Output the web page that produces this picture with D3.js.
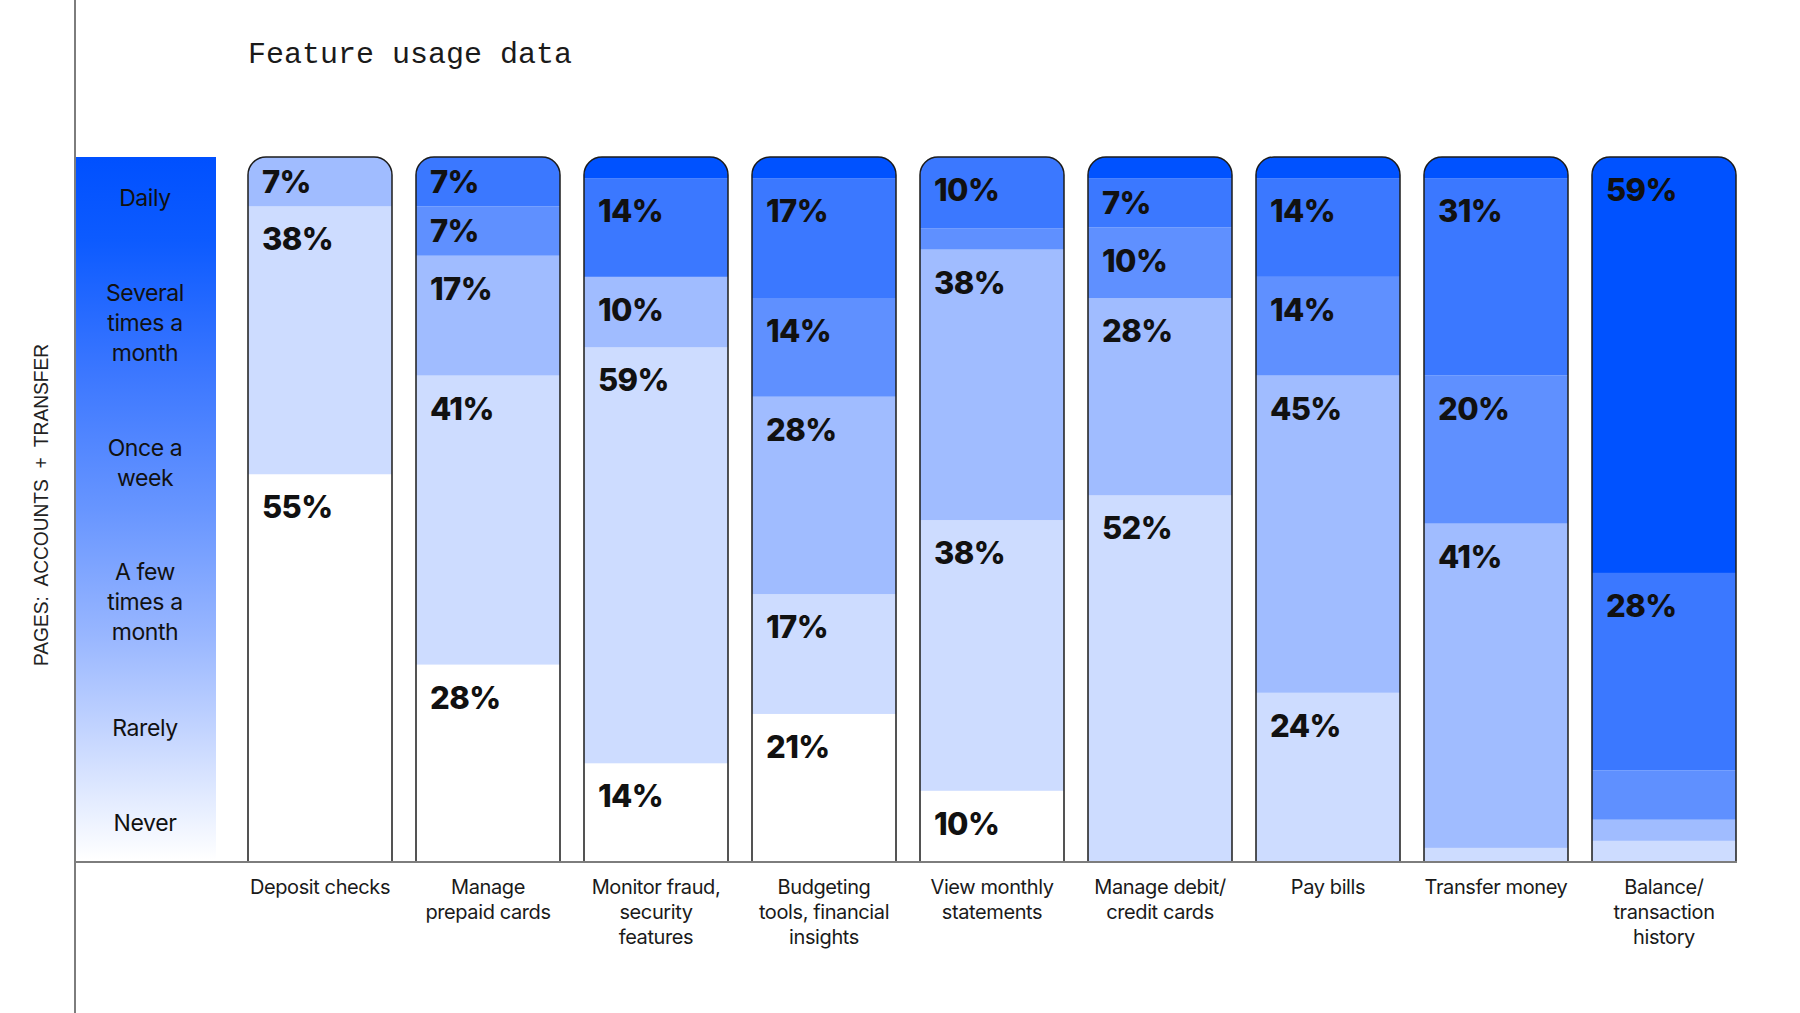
<!DOCTYPE html>
<html>
<head>
<meta charset="utf-8">
<script src="https://cdn.jsdelivr.net/npm/d3@7"></script>
<style>
  body { margin: 0; background: #fff; }
  svg { display: block; }
</style>
</head>
<body>
<div class="canvas"></div>
<script>
// categories (x) and their wrapped tick labels
const features = ['Deposit checks', 'Manage prepaid cards', 'Monitor fraud, security features',
    'Budgeting tools, financial insights', 'View monthly statements', 'Manage debit/ credit cards',
    'Pay bills', 'Transfer money', 'Balance/ transaction history']
const featureLines = [['Deposit checks'], ['Manage', 'prepaid cards'], ['Monitor fraud,', 'security', 'features'],
    ['Budgeting', 'tools, financial', 'insights'], ['View monthly', 'statements'], ['Manage debit/', 'credit cards'],
    ['Pay bills'], ['Transfer money'], ['Balance/', 'transaction', 'history']]

// frequency levels, top of the stack first
const levels = ['Daily', 'Several times a month', 'Once a week', 'A few times a month', 'Rarely', 'Never']
const levelLines = [['Daily'], ['Several', 'times a', 'month'], ['Once a', 'week'], ['A few', 'times a', 'month'], ['Rarely'], ['Never']]

// share of users per level (segment sizes as drawn, %)
const daily    = [0, 0, 3, 3, 0, 3, 3, 3, 59]
const several  = [0, 7, 14, 17, 10, 7, 14, 28, 28]
const onceWeek = [0, 7, 0, 14, 3, 10, 14, 21, 7]
const fewMonth = [7, 17, 10, 28, 38, 28, 45, 46, 3]
const rarely   = [38, 41, 59, 17, 38, 52, 24, 2, 3]
const never    = [55, 28, 14, 21, 10, 0, 0, 0, 0]

// percentages printed on the segments (null = no label)
const dailyPrinted    = [null, null, null, null, null, null, null, null, 59]
const severalPrinted  = [null, 7, 14, 17, 10, 7, 14, 31, 28]
const oncePrinted     = [null, 7, null, 14, null, 10, 14, 20, null]
const fewPrinted      = [7, 17, 10, 28, 38, 28, 45, 41, null]
const rarelyPrinted   = [38, 41, 59, 17, 38, 52, 24, null, null]
const neverPrinted    = [55, 28, 14, 21, 10, null, null, null, null]

const seriesValues = [daily, several, onceWeek, fewMonth, rarely, never]
const seriesPrinted = [dailyPrinted, severalPrinted, oncePrinted, fewPrinted, rarelyPrinted, neverPrinted]
const levelColors = ['#0052ff', '#3b78ff', '#5f90ff', '#a0bcff', '#cddcff', '#ffffff']

const width = 1800
const height = 1013
const font = 'Inter, "Noto Sans", sans-serif'

const svg = d3.select('.canvas').append('svg').attr('width', width).attr('height', height)

const plot = { left: 248, right: 1736, top: 157, bottom: 862 }

// scales
const x = d3.scaleBand()
    .domain(features)
    .range([plot.left, plot.right])
    .paddingInner(24 / 168)
    .paddingOuter(0)

const y = d3.scaleLinear()
    .domain([0, 1])
    .range([plot.bottom, plot.top])

const color = d3.scaleOrdinal().domain(levels).range(levelColors)

// table for the stack
const rows = features.map((f, i) => {
    const row = { feature: f, index: i }
    levels.forEach((l, j) => { row[l] = seriesValues[j][i] })
    return row
})

const stacked = d3.stack()
    .keys(levels.slice().reverse())
    .offset(d3.stackOffsetExpand)(rows)

// title
svg.append('text')
    .attr('x', 248).attr('y', 63)
    .attr('font-family', '"Liberation Mono", "DejaVu Sans Mono", monospace')
    .attr('font-size', 30)
    .attr('fill', '#1a1a1a')
    .text('Feature usage data')

// rotated side label
svg.append('text')
    .attr('transform', 'translate(48, 505) rotate(-90)')
    .attr('text-anchor', 'middle')
    .attr('font-family', '"Liberation Sans", Arial, sans-serif')
    .attr('font-size', 21)
    .attr('fill', '#222')
    .style('white-space', 'pre')
    .attr('textLength', 322)
    .attr('lengthAdjust', 'spacingAndGlyphs')
    .text('PAGES:  ACCOUNTS  +  TRANSFER')

// gradient legend
const defs = svg.append('defs')
const grad = defs.append('linearGradient')
    .attr('id', 'legendGrad')
    .attr('x1', 0).attr('y1', 0).attr('x2', 0).attr('y2', 1)
const gradStops = [[0, '#0050ff'], [0.12, '#0d5bff'], [0.3, '#3a76ff'], [0.5, '#6795ff'], [0.68, '#98b6ff'], [0.82, '#c4d5ff'], [0.93, '#e8efff'], [1, '#ffffff']]
grad.selectAll('stop').data(gradStops).enter().append('stop')
    .attr('offset', d => d[0])
    .attr('stop-color', d => d[1])

svg.append('rect')
    .attr('x', 76).attr('y', plot.top)
    .attr('width', 140).attr('height', plot.bottom - 2 - plot.top)
    .attr('fill', 'url(#legendGrad)')

const legendAt = [0.058, 0.235, 0.435, 0.632, 0.811, 0.946]
const legendY = d3.scaleLinear().domain([0, 1]).range([plot.top, plot.bottom - 2])

const legend = svg.append('g')
    .attr('font-family', font)
    .attr('font-size', 23)
    .attr('fill', '#111')
    .attr('text-anchor', 'middle')
    .attr('letter-spacing', -0.4)

levels.forEach((l, i) => {
    const lines = levelLines[i]
    const cy = legendY(legendAt[i])
    const t = legend.append('text').attr('x', 145)
    lines.forEach((line, k) => {
        t.append('tspan')
            .attr('x', 145)
            .attr('y', cy + 8.5 + (k - (lines.length - 1) / 2) * 30)
            .text(line)
    })
})

// bars with rounded top corners
const r = 18
const barPath = f => {
    const x0 = x(f), x1 = x(f) + x.bandwidth(), y0 = y(1), y1 = y(0)
    return `M${x0},${y1} V${y0 + r} A${r},${r} 0 0 1 ${x0 + r},${y0} H${x1 - r} A${r},${r} 0 0 1 ${x1},${y0 + r} V${y1} Z`
}

defs.selectAll('clipPath').data(features).enter().append('clipPath')
    .attr('id', (d, i) => `bar-clip-${i}`)
    .append('path')
    .attr('d', barPath)

const barGroups = svg.selectAll('g.bar').data(features).enter().append('g')
    .attr('class', 'bar')

barGroups.append('g')
    .attr('clip-path', (d, i) => `url(#bar-clip-${i})`)
    .selectAll('rect')
    .data((f, i) => stacked.map(s => ({ key: s.key, seg: s[i], i })))
    .enter()
    .append('rect')
    .attr('x', d => x(features[d.i]))
    .attr('width', x.bandwidth())
    .attr('y', d => y(d.seg[1]))
    .attr('height', d => Math.max(0, y(d.seg[0]) - y(d.seg[1])))
    .attr('fill', d => color(d.key))

barGroups.append('path')
    .attr('d', barPath)
    .attr('fill', 'none')
    .attr('stroke', '#1c1c1c')
    .attr('stroke-width', 1.5)

// value labels
const labels = []
stacked.forEach(s => {
    const li = levels.indexOf(s.key)
    s.forEach((seg, i) => {
        const p = seriesPrinted[li][i]
        if (p == null) return
        const top = y(seg[1])
        const h = y(seg[0]) - y(seg[1])
        labels.push({ x: x(features[i]) + 14, y: top + Math.min(44, h / 2 + 11), text: p + '%' })
    })
})

svg.append('g')
    .attr('font-family', font)
    .attr('font-weight', 800)
    .attr('font-size', 31)
    .attr('fill', '#111')
    .attr('letter-spacing', -0.6)
    .selectAll('text')
    .data(labels)
    .enter()
    .append('text')
    .attr('x', d => d.x)
    .attr('y', d => d.y)
    .text(d => d.text)

// axes lines
svg.append('line')
    .attr('x1', 75).attr('x2', 75).attr('y1', 0).attr('y2', height)
    .attr('stroke', '#7d7d7d').attr('stroke-width', 2)

svg.append('line')
    .attr('x1', 75).attr('x2', plot.right + 1).attr('y1', plot.bottom).attr('y2', plot.bottom)
    .attr('stroke', '#7d7d7d').attr('stroke-width', 2)

// x axis labels
const xAxisGroup = svg.append('g').attr('transform', `translate(0, ${plot.bottom})`)
xAxisGroup.call(d3.axisBottom(x).tickSize(0).tickPadding(0))
xAxisGroup.select('.domain').remove()
xAxisGroup.attr('font-family', font).attr('font-size', 20)

xAxisGroup.selectAll('.tick text')
    .attr('fill', '#1a1a1a')
    .attr('letter-spacing', -0.4)
    .attr('dy', null)
    .text(null)
    .each(function (d) {
        const lines = featureLines[features.indexOf(d)]
        lines.forEach((line, k) => {
            d3.select(this).append('tspan')
                .attr('x', 0)
                .attr('y', 32 + k * 25)
                .text(line)
        })
    })
</script>
</body>
</html>
